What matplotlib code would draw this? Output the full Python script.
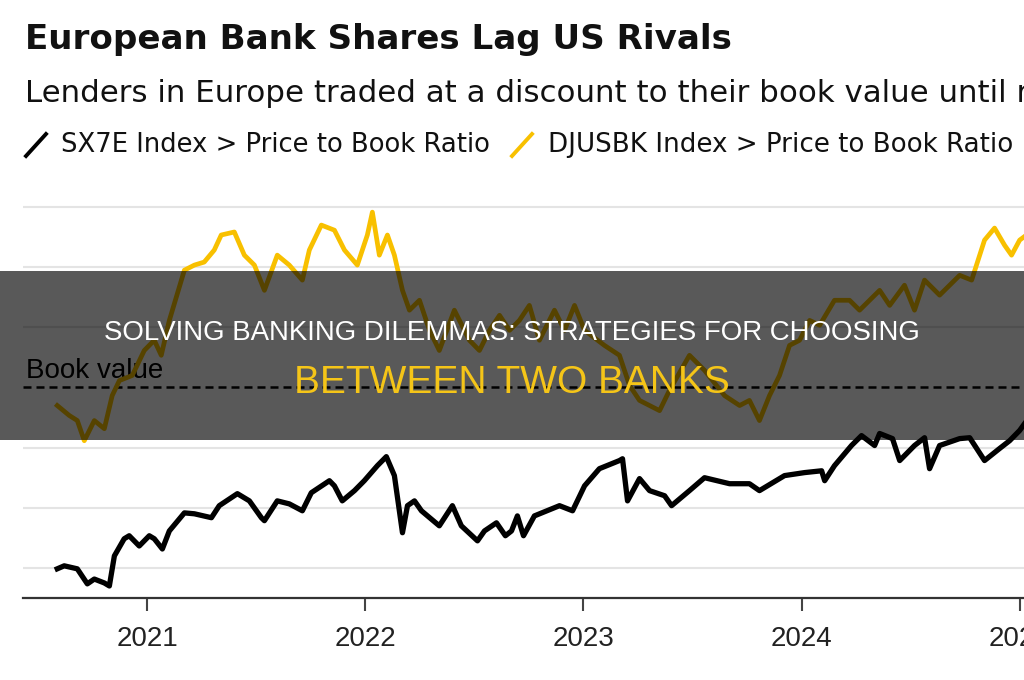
import matplotlib
matplotlib.use("Agg")
import matplotlib.pyplot as plt
from matplotlib.lines import Line2D
from matplotlib.patches import Rectangle

# Price to book ratio (x in fractional years)
sx7e_year = [2020.587, 2020.619, 2020.679, 2020.725, 2020.757, 2020.803, 2020.826, 2020.849,
             2020.894, 2020.917, 2020.963, 2021.009, 2021.032, 2021.069, 2021.101, 2021.170,
             2021.216, 2021.294, 2021.330, 2021.413, 2021.468, 2021.523, 2021.537, 2021.596,
             2021.651, 2021.711, 2021.752, 2021.835, 2021.858, 2021.894, 2021.950, 2021.995,
             2022.055, 2022.096, 2022.133, 2022.170, 2022.193, 2022.225, 2022.257, 2022.339,
             2022.399, 2022.440, 2022.514, 2022.546, 2022.601, 2022.642, 2022.670, 2022.697,
             2022.725, 2022.775, 2022.890, 2022.950, 2023.005, 2023.073, 2023.165, 2023.179,
             2023.202, 2023.257, 2023.303, 2023.372, 2023.404, 2023.486, 2023.555, 2023.670,
             2023.761, 2023.807, 2023.922, 2024.014, 2024.092, 2024.106, 2024.151, 2024.229,
             2024.275, 2024.335, 2024.358, 2024.417, 2024.450, 2024.518, 2024.564, 2024.587,
             2024.633, 2024.725, 2024.771, 2024.839, 2024.908, 2024.954, 2025.000, 2025.050]
sx7e_pb = [0.397, 0.407, 0.397, 0.347, 0.363, 0.350, 0.340, 0.440,
           0.497, 0.507, 0.473, 0.507, 0.497, 0.463, 0.523, 0.583,
           0.580, 0.567, 0.607, 0.647, 0.623, 0.567, 0.557, 0.623,
           0.613, 0.590, 0.650, 0.690, 0.673, 0.623, 0.657, 0.690,
           0.740, 0.770, 0.707, 0.517, 0.607, 0.623, 0.590, 0.540,
           0.607, 0.540, 0.490, 0.523, 0.550, 0.507, 0.523, 0.573,
           0.507, 0.573, 0.607, 0.590, 0.673, 0.730, 0.757, 0.763,
           0.623, 0.697, 0.657, 0.640, 0.607, 0.657, 0.700, 0.680,
           0.680, 0.657, 0.707, 0.717, 0.723, 0.690, 0.740, 0.807,
           0.840, 0.807, 0.847, 0.830, 0.757, 0.807, 0.833, 0.730,
           0.807, 0.830, 0.833, 0.757, 0.797, 0.823, 0.857, 0.907]

djusbk_year = [2020.587, 2020.642, 2020.679, 2020.711, 2020.757, 2020.803, 2020.839, 2020.872,
               2020.931, 2020.986, 2021.032, 2021.064, 2021.101, 2021.170, 2021.216, 2021.261,
               2021.307, 2021.339, 2021.399, 2021.445, 2021.491, 2021.537, 2021.596, 2021.651,
               2021.711, 2021.743, 2021.798, 2021.858, 2021.904, 2021.963, 2022.009, 2022.032,
               2022.064, 2022.101, 2022.133, 2022.170, 2022.202, 2022.248, 2022.294, 2022.339,
               2022.408, 2022.477, 2022.523, 2022.569, 2022.615, 2022.661, 2022.706, 2022.752,
               2022.798, 2022.867, 2022.913, 2022.959, 2023.005, 2023.096, 2023.165, 2023.211,
               2023.257, 2023.349, 2023.394, 2023.486, 2023.555, 2023.647, 2023.716, 2023.761,
               2023.807, 2023.853, 2023.899, 2023.945, 2023.991, 2024.037, 2024.083, 2024.151,
               2024.220, 2024.266, 2024.358, 2024.404, 2024.472, 2024.518, 2024.564, 2024.633,
               2024.725, 2024.780, 2024.839, 2024.885, 2024.931, 2024.963, 2025.000, 2025.050]
djusbk_pb = [0.940, 0.907, 0.890, 0.823, 0.890, 0.863, 0.973, 1.023,
             1.040, 1.123, 1.157, 1.107, 1.223, 1.390, 1.407, 1.417,
             1.457, 1.507, 1.517, 1.440, 1.407, 1.323, 1.440, 1.407,
             1.357, 1.457, 1.540, 1.523, 1.457, 1.407, 1.507, 1.583,
             1.440, 1.507, 1.440, 1.323, 1.257, 1.290, 1.190, 1.123,
             1.257, 1.157, 1.123, 1.190, 1.240, 1.190, 1.223, 1.273,
             1.157, 1.257, 1.190, 1.273, 1.190, 1.140, 1.107, 1.007,
             0.957, 0.923, 0.990, 1.107, 1.057, 0.973, 0.940, 0.957,
             0.890, 0.973, 1.040, 1.140, 1.157, 1.223, 1.207, 1.290,
             1.290, 1.257, 1.323, 1.273, 1.340, 1.257, 1.357, 1.307,
             1.373, 1.357, 1.490, 1.530, 1.473, 1.440, 1.490, 1.517]

years = [2021, 2022, 2023, 2024, 2025]
grid_levels = [0.4, 0.6, 0.8, 1.2, 1.4, 1.6]
book_value = 1.0

YELLOW = "#f8c000"
FONT = "Liberation Sans"
HEAD = "DejaVu Sans"

fig = plt.figure(figsize=(10.24, 6.8), dpi=100)
ax = fig.add_axes([23 / 1024, 82 / 680, 1 - 23 / 1024, 406 / 680])

for g in grid_levels:
    ax.axhline(g, color="#e4e4e4", lw=1.5, zorder=1)
ax.axhline(book_value, color="black", lw=1.8, dashes=(3.2, 2), zorder=2)
ax.text(0.003, 1.03, "Book value", transform=ax.get_yaxis_transform(),
        fontsize=20, family=FONT, color="black", va="baseline", zorder=3)

ax.plot(djusbk_year, djusbk_pb, color=YELLOW, lw=3.4, solid_joinstyle="round", zorder=4)
ax.plot(sx7e_year, sx7e_pb, color="black", lw=3.8, solid_joinstyle="round", zorder=5)

ax.set_xlim(2020.43, 2025.02)
ax.set_ylim(0.3, 1.65)
ax.set_xticks(years)
ax.set_xticklabels([str(y) for y in years], fontsize=20, family=FONT, color="#222222")
ax.set_yticks([])
ax.tick_params(axis="x", length=9, width=1.5, color="#444444", pad=11)
for s in ["top", "right", "left"]:
    ax.spines[s].set_visible(False)
ax.spines["bottom"].set_color("#333333")
ax.spines["bottom"].set_linewidth(1.6)

# header (the subtitle runs off the right edge, as in the source)
fig.text(25 / 1024, 1 - 39 / 680, "European Bank Shares Lag US Rivals", fontsize=24.6,
         fontweight="bold", family=HEAD, va="center", ha="left", color="#111111")
fig.text(25 / 1024, 1 - 93 / 680,
         "Lenders in Europe traded at a discount to their book value until recently",
         fontsize=22.2, family=HEAD, va="center", ha="left", color="#111111")
fig.add_artist(Line2D([26 / 1024, 46 / 1024], [1 - 156 / 680, 1 - 134 / 680],
                      color="black", lw=2.8, transform=fig.transFigure))
fig.text(61 / 1024, 1 - 145 / 680, "SX7E Index > Price to Book Ratio", fontsize=18.6,
         family=HEAD, va="center", ha="left", color="#111111")
fig.add_artist(Line2D([512 / 1024, 532 / 1024], [1 - 156 / 680, 1 - 134 / 680],
                      color=YELLOW, lw=2.8, transform=fig.transFigure))
fig.text(548 / 1024, 1 - 145 / 680, "DJUSBK Index > Price to Book Ratio", fontsize=18.8,
         family=HEAD, va="center", ha="left", color="#111111")

# dark banner across the middle
fig.patches.append(Rectangle((0, 1 - 440 / 680), 1, 169 / 680, transform=fig.transFigure,
                             facecolor="black", alpha=0.65, zorder=10, figure=fig))
fig.text(0.5, 1 - 333 / 680, "SOLVING BANKING DILEMMAS: STRATEGIES FOR CHOOSING",
         fontsize=19.9, family=FONT, color="white", ha="center", va="center", zorder=11)
fig.text(0.5, 1 - 383 / 680, "BETWEEN TWO BANKS", fontsize=28, family=FONT,
         color="#f5c518", ha="center", va="center", zorder=11)

fig.savefig("out.png", dpi=100)
